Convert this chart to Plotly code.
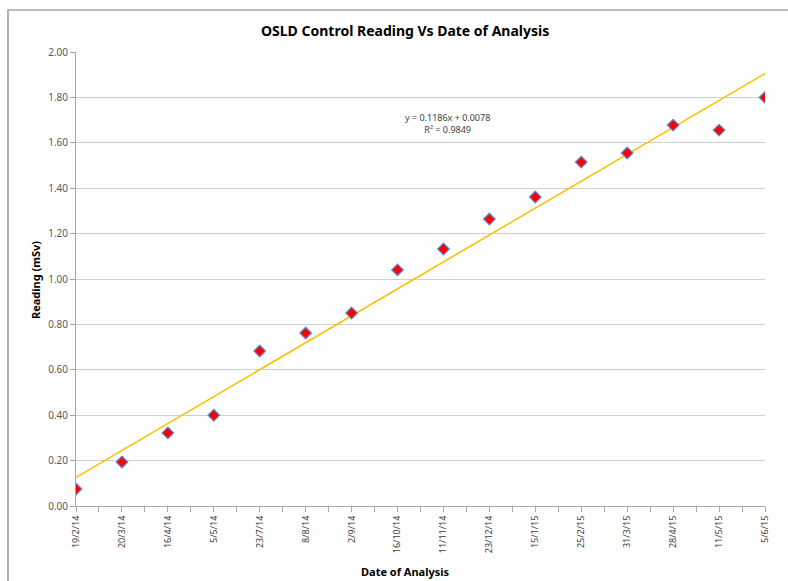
import plotly.graph_objects as go

# Analysis dates and control readings (mSv)
dates = ["19/2/14", "20/3/14", "16/4/14", "5/5/14", "23/7/14", "8/8/14", "2/9/14",
         "16/10/14", "11/11/14", "23/12/14", "15/1/15", "25/2/15", "31/3/15",
         "28/4/15", "11/5/15", "5/6/15"]
readings = [0.075, 0.194, 0.322, 0.400, 0.683, 0.762, 0.850, 1.040, 1.132,
            1.264, 1.361, 1.515, 1.555, 1.678, 1.656, 1.800]

# Linear trendline coefficients (x = analysis index starting at 1)
slope = 0.1186
intercept = 0.0078
r_squared = 0.9849

y_ticks = [0.0, 0.2, 0.4, 0.6, 0.8, 1.0, 1.2, 1.4, 1.6, 1.8, 2.0]

W, H = 788, 581
L, R, T, B = 76, 765, 52, 506  # plot area edges in pixels

idx = list(range(1, len(dates) + 1))
trend_x = [idx[0], idx[-1]]
trend_y = [slope * x + intercept for x in trend_x]

fig = go.Figure()

fig.add_trace(go.Scatter(
    x=trend_x, y=trend_y, mode="lines",
    line=dict(color="#FFC000", width=1.6),
    hoverinfo="skip", showlegend=False,
))
fig.add_trace(go.Scatter(
    x=idx, y=readings, mode="markers",
    marker=dict(symbol="diamond", size=9, color="#FF0000",
                line=dict(color="#5B8FD6", width=1.2)),
    showlegend=False,
))

pw = R - L
ph = B - T


def px_x(p):
    return (p - L) / pw


def px_y(p):
    return (B - p) / ph


fig.update_layout(
    width=W, height=H,
    margin=dict(l=L, r=W - R, t=T, b=H - B),
    paper_bgcolor="white", plot_bgcolor="white",
    font=dict(family="Noto Sans, Liberation Sans, sans-serif", color="#404040"),
    xaxis=dict(
        range=[1, 16], tickmode="array", tickvals=idx, ticktext=dates,
        tickangle=-90, tickfont=dict(size=9, color="#404040"),
        showgrid=False, zeroline=False,
        showline=True, linecolor="#A6A6A6", linewidth=1,
        ticks="outside", ticklen=5, tickcolor="#A6A6A6",
        minor=dict(ticks="outside", ticklen=5, tickcolor="#A6A6A6",
                   tick0=1.5, dtick=1, showgrid=False),
    ),
    yaxis=dict(
        range=[0, 2.0], tickmode="array", tickvals=y_ticks,
        tickformat=".2f", tickfont=dict(size=10, color="#595959"),
        showgrid=True, gridcolor="#D0D0D0", gridwidth=1,
        zeroline=False,
        showline=True, linecolor="#A6A6A6", linewidth=1,
        ticks="outside", ticklen=5, tickcolor="#A6A6A6",
    ),
    shapes=[
        dict(type="rect", xref="paper", yref="paper",
             x0=px_x(8), x1=px_x(800), y0=px_y(600), y1=px_y(10),
             line=dict(color="#7F7F7F", width=1.2), fillcolor="rgba(0,0,0,0)",
             layer="below"),
    ],
    annotations=[
        dict(text="<b>OSLD Control Reading Vs Date of Analysis</b>",
             xref="paper", yref="paper", x=px_x(405), y=px_y(31),
             showarrow=False, font=dict(size=14, color="#000000"),
             xanchor="center", yanchor="middle"),
        dict(text="<b>Reading (mSv)</b>", textangle=-90,
             xref="paper", yref="paper", x=px_x(35), y=px_y(280),
             showarrow=False, font=dict(size=11, color="#000000"),
             xanchor="center", yanchor="middle"),
        dict(text="<b>Date of Analysis</b>",
             xref="paper", yref="paper", x=px_x(405), y=px_y(571),
             showarrow=False, font=dict(size=11, color="#000000"),
             xanchor="center", yanchor="middle"),
        dict(text=f"y = {slope:.4f}x + {intercept:.4f}<br>R² = {r_squared:.4f}",
             xref="paper", yref="paper", x=px_x(447), y=px_y(123),
             showarrow=False, font=dict(size=9, color="#404040"),
             align="center", xanchor="center", yanchor="middle"),
    ],
)

fig.write_html("out.html")
